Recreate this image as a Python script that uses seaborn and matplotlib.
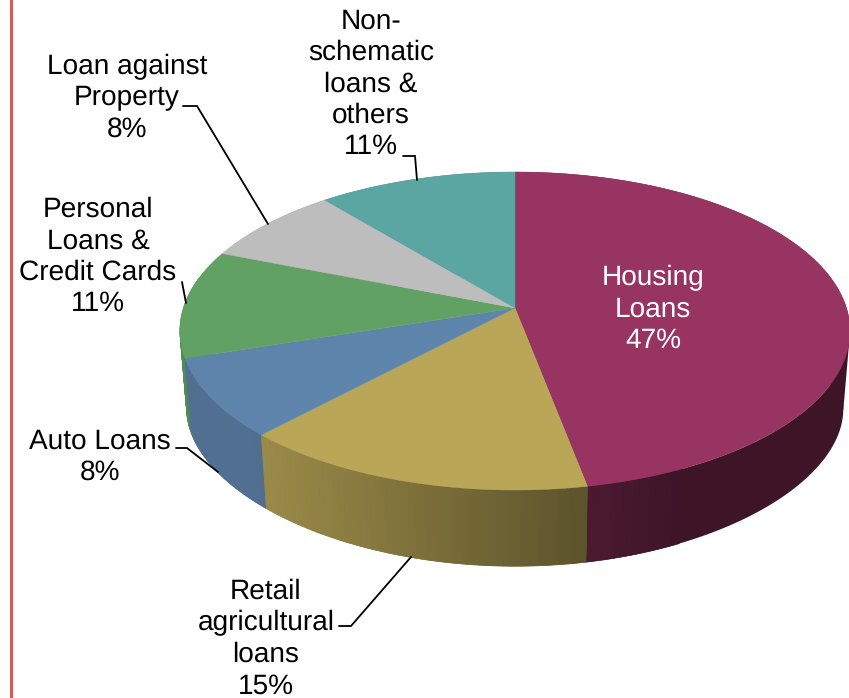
import numpy as np
import matplotlib
matplotlib.use('Agg')
import matplotlib.pyplot as plt
import seaborn as sns

# slices, clockwise from 12 o'clock
categories = ["Housing\nLoans", "Retail\nagricultural\nloans", "Auto Loans",
              "Personal\nLoans &\nCredit Cards", "Loan against\nProperty",
              "Non-\nschematic\nloans &\nothers"]
shares = [47, 15, 8, 11, 8, 11]
colors = ["#983462", "#b9a657", "#5f84ab", "#61a264", "#bdbdbd", "#5ba5a3"]
label_pos = [(653, 309), (266, 639), (100, 457), (98, 257), (127, 98), (371, 84)]
label_colors = ["white", "black", "black", "black", "black", "black"]
leaders = [None,
           [(339, 626), (351, 626), (411, 557)],
           [(176, 448), (187, 448), (218, 472)],
           [(182, 282), (186, 303)],
           [(183, 106), (197, 106), (268, 224)],
           [(403, 156), (415, 156), (417, 180)]]

# perspective of the disc, in pixels
CX, CY = 515, 308
A, B, K = 331.5, 155.7, 0.1446
BOTTOM_SCALE, BOTTOM_C, BOTTOM_B, BOTTOM_K = 0.98, 388, 139, 0.22


def top_rim(theta):
    X, Y = np.sin(theta), np.cos(theta)
    w = 1 + K * Y
    return CX + A * X / w, CY - B * Y / w


def bottom_rim(theta):
    x, _ = top_rim(theta)
    Y = np.cos(theta)
    return CX + BOTTOM_SCALE * (x - CX), BOTTOM_C - BOTTOM_B * Y / (1 + BOTTOM_K * Y)


def shade_factor(x):
    return np.clip(0.83 - (x - 267) / 319 * 0.33, 0.40, 0.85)


def shade(color, f):
    return tuple(c * f for c in matplotlib.colors.to_rgb(color))


sns.set_theme(style="white")
plt.rcParams['font.family'] = ['Liberation Sans', 'DejaVu Sans']
plt.rcParams['text.hinting'] = 'no_hinting'
plt.rcParams['text.hinting_factor'] = 1

fig, ax = plt.subplots(figsize=(8.49, 6.98), dpi=100)
ax.set_position([0, 0, 1, 1])
ax.set_xlim(0, 849)
ax.set_ylim(698, 0)
ax.axis('off')

ax.axvline(11, color="#cd5f5b", lw=2.2, zorder=1)

edges = np.cumsum([0] + shares) / sum(shares) * 2 * np.pi

# one wall polygon per slice, back to front, so flat parts have no seams
order = sorted(range(len(shares)), key=lambda i: -np.cos((edges[i] + edges[i + 1]) / 2))
for i in order:
    t = np.linspace(edges[i], edges[i + 1], 150)
    x0, y0 = top_rim(t)
    x1, y1 = bottom_rim(t)
    f = shade_factor(x0.max()) if shares[i] > 20 else shade_factor(x0.mean())
    c = shade(colors[i], f)
    ax.fill(np.r_[x0, x1[::-1]], np.r_[y0, y1[::-1]], facecolor=c, edgecolor='none', zorder=2)

    # straight silhouette where the wall turns away on the right
    if x0.max() > 840:
        te = t[np.argmax(x0)]
        ta = np.arccos(0.3)
        xs = [top_rim(ta)[0], top_rim(te)[0], bottom_rim(te)[0], bottom_rim(ta)[0]]
        ys = [top_rim(ta)[1], top_rim(te)[1], bottom_rim(te)[1], bottom_rim(ta)[1]]
        ax.fill(xs, ys, facecolor=c, edgecolor='none', zorder=2)

    # gradient strips on top of it, only where the shade still changes
    n = max(int(shares[i] * 4), 2)
    s = np.linspace(edges[i], edges[i + 1], n + 1)
    for t0, t1 in zip(s[:-1], s[1:]):
        xa, ya = top_rim(t0)
        xb, yb = top_rim(t1)
        xc, yc = bottom_rim(t1)
        xd, yd = bottom_rim(t0)
        fs = shade_factor((xa + xb) / 2)
        if fs <= 0.40 or np.cos((t0 + t1) / 2) > 0.2:
            continue
        c = shade(colors[i], fs)
        ax.fill([xa, xb, xc, xd], [ya, yb, yc, yd], facecolor=c, edgecolor=c, lw=0.5, zorder=2)

# top face
for i, color in enumerate(colors):
    t = np.linspace(edges[i], edges[i + 1], 120)
    x, y = top_rim(t)
    ax.fill(np.r_[CX, x], np.r_[CY, y], facecolor=color, edgecolor=color, lw=0.3, zorder=3)

for i, cat in enumerate(categories):
    x, y = label_pos[i]
    ax.text(x, y, f"{cat}\n{shares[i]}%", color=label_colors[i], fontsize=20.2,
            ha='center', va='center', linespacing=1.26, zorder=5)
    if leaders[i]:
        lx, ly = zip(*leaders[i])
        ax.plot(lx, ly, color="black", lw=1.3, zorder=4, solid_joinstyle='miter')

fig.savefig("out.png", dpi=100)
plt.close(fig)
